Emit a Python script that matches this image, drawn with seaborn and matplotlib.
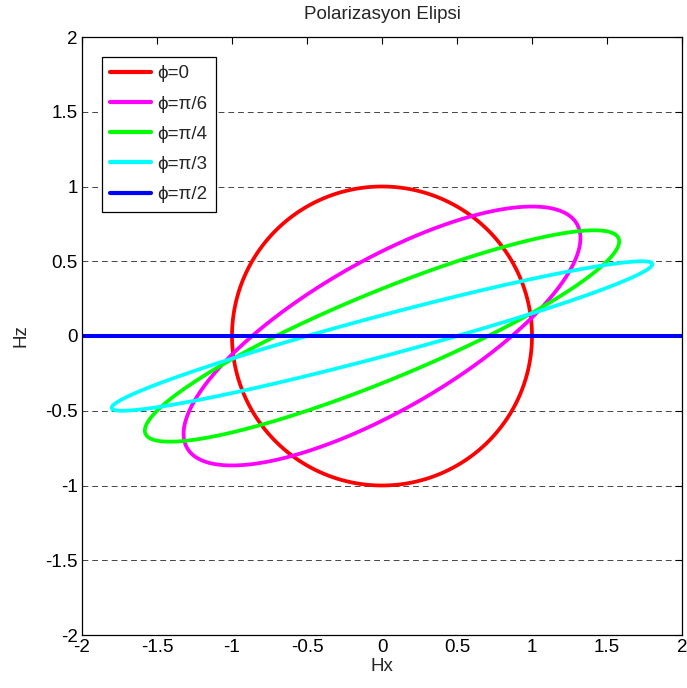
import numpy as np
import pandas as pd
import seaborn as sns
import matplotlib.pyplot as plt

# phase differences shown in the legend
phis = [0, np.pi / 6, np.pi / 4, np.pi / 3, np.pi / 2]
labels = ["ϕ=0", "ϕ=π/6", "ϕ=π/4", "ϕ=π/3", "ϕ=π/2"]
colors = ["#ff0000", "#ff00ff", "#00ff00", "#00ffff", "#0000ff"]
ticks = [-2, -1.5, -1, -0.5, 0, 0.5, 1, 1.5, 2]
tick_labels = ["-2", "-1.5", "-1", "-0.5", "0", "0.5", "1", "1.5", "2"]

sns.set_style("white")
plt.rcParams['font.family'] = ['Liberation Sans', 'DejaVu Sans']

wt = np.linspace(0, 2 * np.pi, 400)
rows = []
for phi, lab in zip(phis, labels):
    hx = np.cos(phi) * np.cos(wt) + 2 * np.sin(phi) * np.sin(wt)
    hz = np.cos(phi) * np.sin(wt)
    rows.append(pd.DataFrame({"Hx": hx, "Hz": hz, "phi": lab}))
df = pd.concat(rows, ignore_index=True)

fig = plt.figure(figsize=(6.87, 6.88), dpi=100)
ax = fig.add_axes([82 / 687, 53 / 688, 600 / 687, 598 / 688])

sns.lineplot(data=df, x="Hx", y="Hz", hue="phi", palette=colors, sort=False,
             estimator=None, units="phi", linewidth=2.7, ax=ax, legend=True)

ax.set_xlim(-2, 2)
ax.set_ylim(-2, 2)
ax.set_xticks(ticks)
ax.set_xticklabels(tick_labels)
ax.set_yticks(ticks)
ax.set_yticklabels(tick_labels)
ax.tick_params(direction="in", top=True, right=True, length=5, width=0.8,
               labelsize=13.5, colors="black", pad=3)
for s in ax.spines.values():
    s.set_color("black")
    s.set_linewidth(0.9)
ax.yaxis.grid(True, linestyle=(0, (6, 4)), color="#444444", linewidth=0.7)
ax.set_axisbelow(True)

ax.set_title("Polarizasyon Elipsi", fontsize=13.5, pad=13)
ax.set_xlabel("Hx", fontsize=13.5, labelpad=1)
ax.set_ylabel("Hz", fontsize=13.5, labelpad=11)

leg = ax.legend(loc="upper left", bbox_to_anchor=(0.033, 0.967), fontsize=13.5,
                frameon=True, fancybox=False, edgecolor="black", framealpha=1,
                handlelength=2.2, handletextpad=0.3, labelspacing=0.7,
                borderpad=0.45, borderaxespad=0, title=None)
leg.get_frame().set_linewidth(0.9)
for line in leg.get_lines():
    line.set_linewidth(3)

fig.savefig("out.png", dpi=100)
